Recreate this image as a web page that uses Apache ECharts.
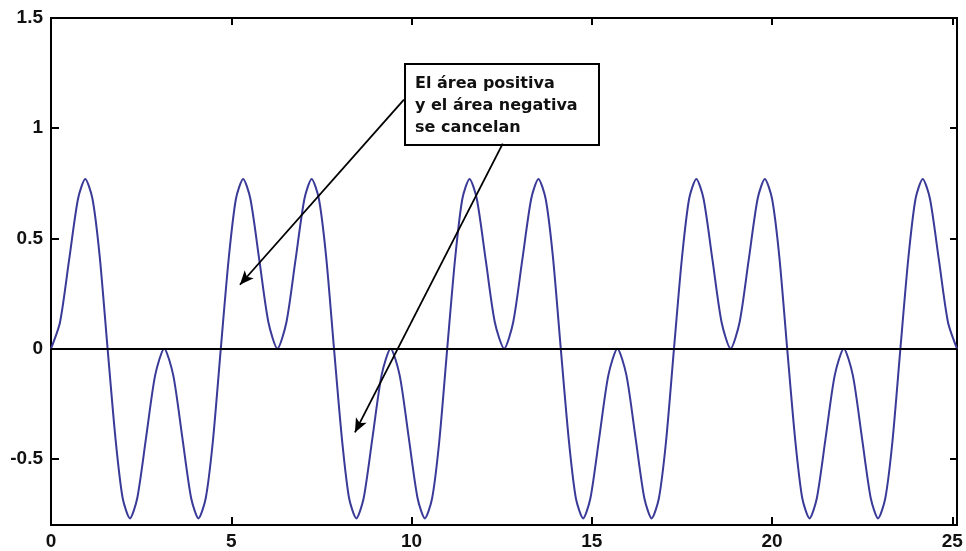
<!DOCTYPE html>
<html>
<head>
<meta charset="utf-8">
<script src="https://cdn.jsdelivr.net/npm/echarts@6/dist/echarts.min.js"></script>
<style>
  html, body { margin: 0; padding: 0; background: #fff; }
  #chart { width: 966px; height: 551px; }
</style>
</head>
<body>
<div id="chart"></div>
<script>
// valores (t, y)
const tValues = [
  0, 0.25, 0.5, 0.75, 0.95, 1.15, 1.35, 1.57, 1.79, 1.99, 2.19, 2.39, 2.64, 2.89,
  3.14, 3.39, 3.64, 3.89, 4.09, 4.29, 4.49, 4.71, 4.93, 5.13, 5.33, 5.53, 5.78, 6.03,
  6.28, 6.53, 6.78, 7.03, 7.23, 7.43, 7.63, 7.85, 8.07, 8.27, 8.47, 8.67, 8.92, 9.17,
  9.42, 9.67, 9.92, 10.17, 10.37, 10.57, 10.77, 10.99, 11.21, 11.41, 11.61, 11.81, 12.06, 12.31,
  12.57, 12.82, 13.07, 13.32, 13.52, 13.72, 13.92, 14.14, 14.36, 14.56, 14.76, 14.96, 15.21, 15.46,
  15.71, 15.96, 16.21, 16.46, 16.66, 16.86, 17.06, 17.28, 17.5, 17.7, 17.9, 18.1, 18.35, 18.6,
  18.85, 19.1, 19.35, 19.6, 19.8, 20.0, 20.2, 20.42, 20.64, 20.84, 21.04, 21.24, 21.49, 21.74,
  21.99, 22.24, 22.49, 22.74, 22.94, 23.14, 23.34, 23.56, 23.78, 23.98, 24.18, 24.38, 24.63, 24.88,
  25.13
];
const yValues = [
  0, 0.12, 0.40, 0.68, 0.77, 0.68, 0.42, 0, -0.41, -0.68, -0.77, -0.68, -0.40, -0.12,
  0, -0.12, -0.40, -0.68, -0.77, -0.68, -0.42, 0, 0.41, 0.68, 0.77, 0.68, 0.40, 0.12,
  0, 0.12, 0.40, 0.68, 0.77, 0.68, 0.42, 0, -0.41, -0.68, -0.77, -0.68, -0.40, -0.12,
  0, -0.12, -0.40, -0.68, -0.77, -0.68, -0.42, 0, 0.41, 0.68, 0.77, 0.68, 0.40, 0.12,
  0, 0.12, 0.40, 0.68, 0.77, 0.68, 0.42, 0, -0.41, -0.68, -0.77, -0.68, -0.40, -0.12,
  0, -0.12, -0.40, -0.68, -0.77, -0.68, -0.42, 0, 0.41, 0.68, 0.77, 0.68, 0.40, 0.12,
  0, 0.12, 0.40, 0.68, 0.77, 0.68, 0.42, 0, -0.41, -0.68, -0.77, -0.68, -0.40, -0.12,
  0, -0.12, -0.40, -0.68, -0.77, -0.68, -0.42, 0, 0.41, 0.68, 0.77, 0.68, 0.40, 0.12,
  0
];
const xTicks = [0, 5, 10, 15, 20, 25];
const yTicks = [-0.5, 0, 0.5, 1, 1.5];
const noteLines = ['El área positiva', 'y el área negativa', 'se cancelan'];
// flechas: [inicio, punta] en coordenadas de datos
const arrows = [
  [[9.79, 1.13], [5.24, 0.29]],
  [[12.53, 0.93], [8.43, -0.38]]
];

const chart = echarts.init(document.getElementById('chart'));

const labelFont = { fontFamily: '"Liberation Sans", Arial, sans-serif', fontSize: 19, fontWeight: 'bold', color: '#111' };
const tickStyle = { lineStyle: { color: '#000', width: 2 } };

const xBase = { type: 'value', min: 0, max: 25.13, splitLine: { show: false }, axisLine: { show: false, onZero: false } };
const yBase = { type: 'value', min: -0.8, max: 1.5, splitLine: { show: false }, axisLine: { show: false, onZero: false } };

const option = {
  animation: false,
  grid: {
    left: 51, right: 9, top: 18, bottom: 25,
    show: true, borderColor: '#000', borderWidth: 2, backgroundColor: '#fff'
  },
  xAxis: [
    Object.assign({}, xBase, {
      position: 'bottom',
      axisTick: Object.assign({ inside: true, length: 8, customValues: xTicks }, tickStyle),
      axisLabel: Object.assign({ margin: 7, customValues: xTicks }, labelFont)
    }),
    Object.assign({}, xBase, {
      position: 'top',
      axisTick: Object.assign({ inside: true, length: 7, customValues: xTicks }, tickStyle),
      axisLabel: { show: false }
    })
  ],
  yAxis: [
    Object.assign({}, yBase, {
      position: 'left',
      axisTick: Object.assign({ inside: true, length: 8, customValues: yTicks }, tickStyle),
      axisLabel: Object.assign({ margin: 8, customValues: yTicks }, labelFont)
    }),
    Object.assign({}, yBase, {
      position: 'right',
      axisTick: Object.assign({ inside: true, length: 7, customValues: yTicks }, tickStyle),
      axisLabel: { show: false }
    })
  ],
  series: [
    {
      type: 'line',
      xAxisIndex: 0,
      yAxisIndex: 0,
      data: tValues.map((t, i) => [t, yValues[i]]),
      showSymbol: false,
      smooth: 0.25,
      lineStyle: { color: '#3a3a98', width: 2 },
      z: 3,
      markLine: {
        silent: true,
        symbol: 'none',
        animation: false,
        label: { show: false },
        lineStyle: { color: '#000', width: 1.8, type: 'solid' },
        data: [{ yAxis: 0 }].concat(arrows.map(a => [
          { coord: a[0], symbol: 'none' },
          { coord: a[1], symbol: 'arrow', symbolSize: [9, 14] }
        ]))
      }
    }
  ],
  graphic: [
    {
      type: 'group',
      left: 404,
      top: 63,
      z: 100,
      children: [
        {
          type: 'rect',
          shape: { x: 0, y: 0, width: 194, height: 81 },
          style: { fill: '#fff', stroke: '#000', lineWidth: 2 }
        },
        {
          type: 'text',
          x: 10,
          y: 9,
          style: {
            text: noteLines.join('\n'),
            font: 'bold 16px "DejaVu Sans", sans-serif',
            lineHeight: 22,
            fill: '#111'
          }
        }
      ]
    }
  ]
};

chart.setOption(option);
</script>
</body>
</html>
